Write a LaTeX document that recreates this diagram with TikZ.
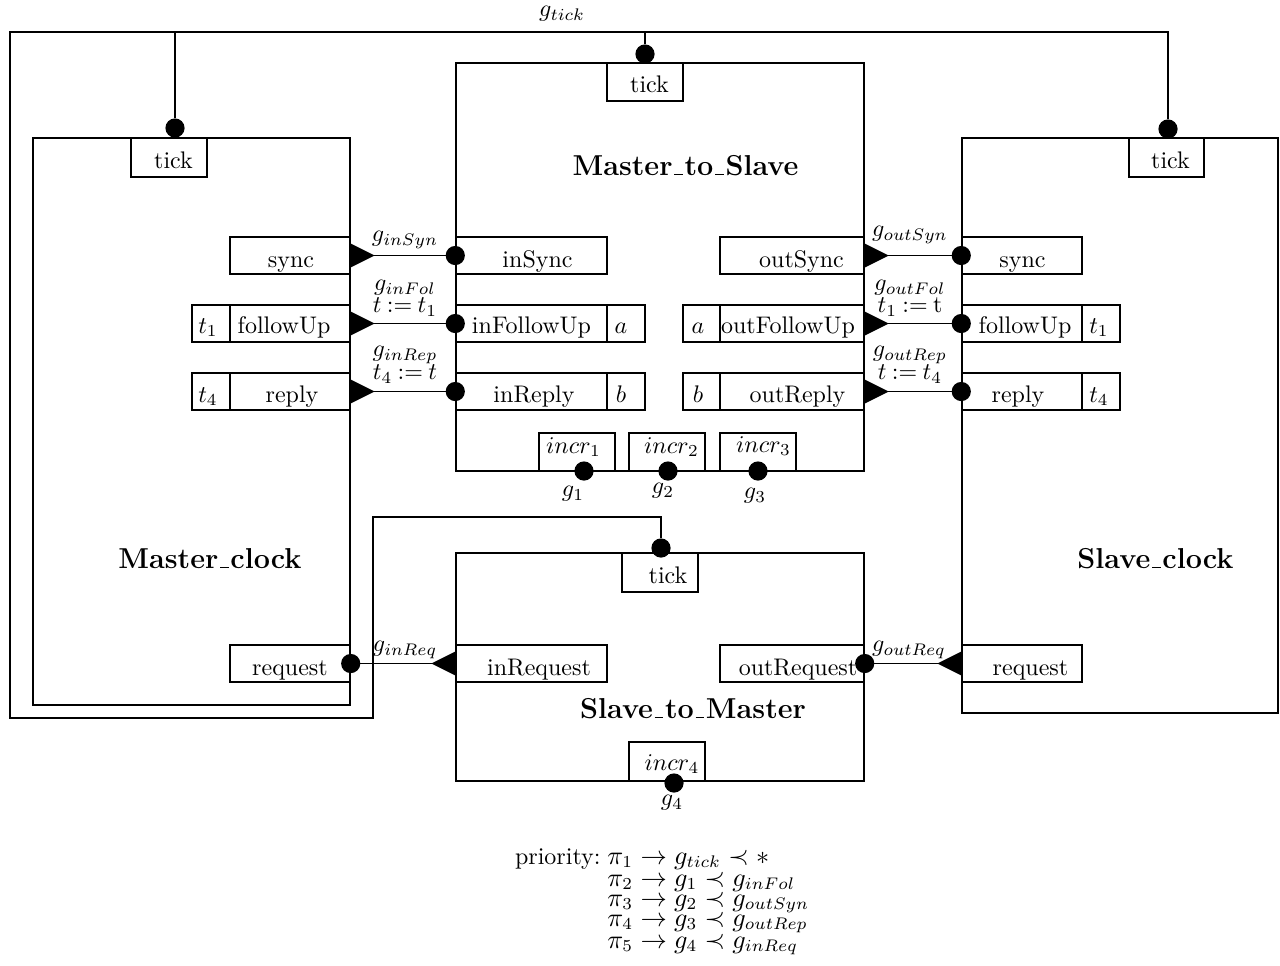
\documentclass[tikz,border=0pt]{standalone}
\newcommand{\pxu}{0.41667pt}
\newcommand{\usc}{\leavevmode\kern.06em\vbox{\hrule width.3em height 0.6pt}\kern.06em}
\tikzset{
  port/.style={draw, line width=0.6pt, inner sep=0pt, anchor=center},
  ptext/.style={anchor=base, inner sep=0pt},
  dot/.style={circle, fill=black, inner sep=0pt, minimum size=8pt},
  wire/.style={line width=0.6pt},
  title/.style={font=\large\bfseries, anchor=base, inner sep=0pt},
  glab/.style={inner sep=0pt},
  prline/.style={anchor=base west, inner sep=0pt, font=\fontsize{10.6pt}{12pt}\selectfont},
}
% #1 name, #2 x1, #3 y1, #4 x2, #5 y2, #6 text, #7 text centre x, #8 text baseline y
\newcommand{\portbox}[8]{\node[port, minimum width={(#4-#2)*\pxu}, minimum height={(#5-#3)*\pxu}] (#1) at ({(#2+#4)/2},{(#3+#5)/2}) {};
  \node[ptext] (#1-t) at (#7,#8) {#6};}
\newcommand{\tright}[1]{\fill (#1) ++(0,-12) -- ++(24,12) -- ++(-24,12) -- cycle;}
\newcommand{\tleft}[1]{\fill (#1) ++(0,-12) -- ++(-24,12) -- ++(24,12) -- cycle;}
\begin{document}
\begin{tikzpicture}[x=\pxu, y=-\pxu]
\useasboundingbox (0,0) rectangle (1280,965);
% Master_clock
\portbox{mc}{33}{138}{350}{705}{}{191}{421}
\portbox{mcTick}{131}{138}{207}{177}{tick}{173.5}{168}
\portbox{mcSync}{230}{237}{350}{274}{sync}{291}{267}
\portbox{mcT1}{192}{305}{230}{342}{$t_1$}{208}{333}
\portbox{mcFol}{230}{305}{350}{342}{followUp}{284}{333}
\portbox{mcT4}{192}{373}{230}{410}{$t_4$}{208}{402}
\portbox{mcRep}{230}{373}{350}{410}{reply}{292}{402}
\portbox{mcReq}{230}{645}{350}{682}{request}{290}{675}
\node[title] (mcTitle) at (210,568) {Master\usc clock};
% Master_to_Slave
\portbox{ms}{456}{63}{864}{471}{}{660}{267}
\portbox{msTick}{607}{63}{683}{101}{tick}{649.5}{92}
\portbox{msInSync}{456}{237}{607}{274}{inSync}{537.5}{267}
\portbox{msInFol}{456}{305}{607}{342}{inFollowUp}{531.5}{333}
\portbox{msA}{607}{305}{645}{342}{$a$}{621}{333}
\portbox{msInRep}{456}{373}{607}{410}{inReply}{534}{402}
\portbox{msB}{607}{373}{645}{410}{$b$}{621}{402}
\portbox{msOutSync}{720}{237}{864}{274}{outSync}{801.5}{267}
\portbox{msA2}{683}{305}{720}{342}{$a$}{698}{333}
\portbox{msOutFol}{720}{305}{864}{342}{outFollowUp}{788}{333}
\portbox{msB2}{683}{373}{720}{410}{$b$}{698}{402}
\portbox{msOutRep}{720}{373}{864}{410}{outReply}{797.5}{402}
\portbox{msI1}{539}{433}{615}{471}{$incr_1$}{573.5}{453}
\portbox{msI2}{629}{433}{705}{471}{$incr_2$}{671.5}{453}
\portbox{msI3}{720}{433}{796}{471}{$incr_3$}{763.5}{452}
\node[title] (msTitle) at (685.5,175) {Master\usc to\usc Slave};
% Slave_clock
\portbox{sc}{962}{138}{1278}{713}{}{1120}{425}
\portbox{scTick}{1129}{138}{1204}{177}{tick}{1170.5}{168}
\portbox{scSync}{962}{237}{1082}{274}{sync}{1022.5}{267}
\portbox{scFol}{962}{305}{1082}{342}{followUp}{1025}{333}
\portbox{scT1}{1082}{305}{1120}{342}{$t_1$}{1099}{333}
\portbox{scRep}{962}{373}{1082}{410}{reply}{1018}{402}
\portbox{scT4}{1082}{373}{1120}{410}{$t_4$}{1099}{402}
\portbox{scReq}{962}{645}{1082}{682}{request}{1030.5}{675}
\node[title] (scTitle) at (1155.5,568) {Slave\usc clock};
% Slave_to_Master
\portbox{sm}{456}{553}{864}{781}{}{660}{667}
\portbox{smTick}{622}{553}{698}{592}{tick}{668}{583}
\portbox{smInReq}{456}{645}{607}{682}{inRequest}{539}{675}
\portbox{smOutReq}{720}{645}{864}{682}{outRequest}{798}{675}
\portbox{smI4}{629}{742}{705}{781}{$incr_4$}{672}{770}
\node[title] (smTitle) at (693,718) {Slave\usc to\usc Master};
% tick network
\node[dot] (mcTickDot) at (175,128) {};
\node[dot] (msTickDot) at (645,54) {};
\node[dot] (scTickDot) at (1168,129) {};
\node[dot] (smTickDot) at (661,548) {};
\coordinate (n1) at (10,32);
\coordinate (n2) at (1168,32);
\coordinate (n3) at (10,718);
\coordinate (n4) at (373,718);
\coordinate (n5) at (373,517);
\coordinate (n6) at (661,517);
\coordinate (nMC) at (175,32);
\coordinate (nMS) at (645,32);
\draw[wire] (smTickDot) -- (n6) -- (n5) -- (n4) -- (n3) -- (n1) -- (n2) -- (scTickDot);
\draw[wire] (nMC) -- (mcTickDot);
\draw[wire] (nMS) -- (msTickDot);
\node[glab] (gtick) at (562,14) {$g_{tick}$};
% left connectors
\draw[wire] (mcSync.east) -- (msInSync.west);
\tright{mcSync.east}
\node[dot] at (msInSync.west) {};
\draw[wire] (mcFol.east) -- (msInFol.west);
\tright{mcFol.east}
\node[dot] at (msInFol.west) {};
\draw[wire] (mcRep.east) -- (msInRep.west);
\tright{mcRep.east}
\node[dot] at (msInRep.west) {};
\node[glab] (lInSyn) at (405,240) {$g_{inSyn}$};
\node[glab] (lInFol) at (405,288) {$g_{inFol}$};
\node[glab] (lInFolA) at (405,307) {$t\mathbin{:=}t_1$};
\node[glab] (lInRep) at (405,355) {$g_{inRep}$};
\node[glab] (lInRepA) at (405,374) {$t_4\mathbin{:=}t$};
% right connectors
\draw[wire] (msOutSync.east) -- (scSync.west);
\tright{msOutSync.east}
\node[dot] at (scSync.west) {};
\draw[wire] (msOutFol.east) -- (scFol.west);
\tright{msOutFol.east}
\node[dot] at (scFol.west) {};
\draw[wire] (msOutRep.east) -- (scRep.west);
\tright{msOutRep.east}
\node[dot] at (scRep.west) {};
\node[glab] (lOutSyn) at (910,235) {$g_{outSyn}$};
\node[glab] (lOutFol) at (910,288) {$g_{outFol}$};
\node[glab] (lOutFolA) at (910,307) {$t_1\mathbin{:=}\mathrm{t}$};
\node[glab] (lOutRep) at (910,355) {$g_{outRep}$};
\node[glab] (lOutRepA) at (910,374) {$t\mathbin{:=}t_4$};
% request connectors
\draw[wire] (mcReq.east) -- (smInReq.west);
\node[dot] at (mcReq.east) {};
\tleft{smInReq.west}
\node[glab] (lInReq) at (405,650) {$g_{inReq}$};
\draw[wire] (smOutReq.east) -- (scReq.west);
\node[dot] at (smOutReq.east) {};
\tleft{scReq.west}
\node[glab] (lOutReq) at (909,650) {$g_{outReq}$};
% incr dots
\node[dot] (d1) at (584,471) {};
\node[dot] (d2) at (668,471) {};
\node[dot] (d3) at (758,471) {};
\node[dot] (d4) at (674,783) {};
\node[glab] (g1) at (573,494) {$g_1$};
\node[glab] (g2) at (663,491) {$g_2$};
\node[glab] (g3) at (755,496) {$g_3$};
\node[glab] (g4) at (672,803) {$g_4$};
% priority
\node[anchor=base east, inner sep=0pt] (prio) at (601,864) {priority:};
\node[prline] (p1) at (607,864) {$\pi_1 \rightarrow g_{tick} \prec *$};
\node[prline] (p2) at (607,886) {$\pi_2 \rightarrow g_1 \prec g_{inFol}$};
\node[prline] (p3) at (607,906) {$\pi_3 \rightarrow g_2 \prec g_{outSyn}$};
\node[prline] (p4) at (607,926) {$\pi_4 \rightarrow g_3 \prec g_{outRep}$};
\node[prline] (p5) at (607,948) {$\pi_5 \rightarrow g_4 \prec g_{inReq}$};
\end{tikzpicture}
\end{document}
